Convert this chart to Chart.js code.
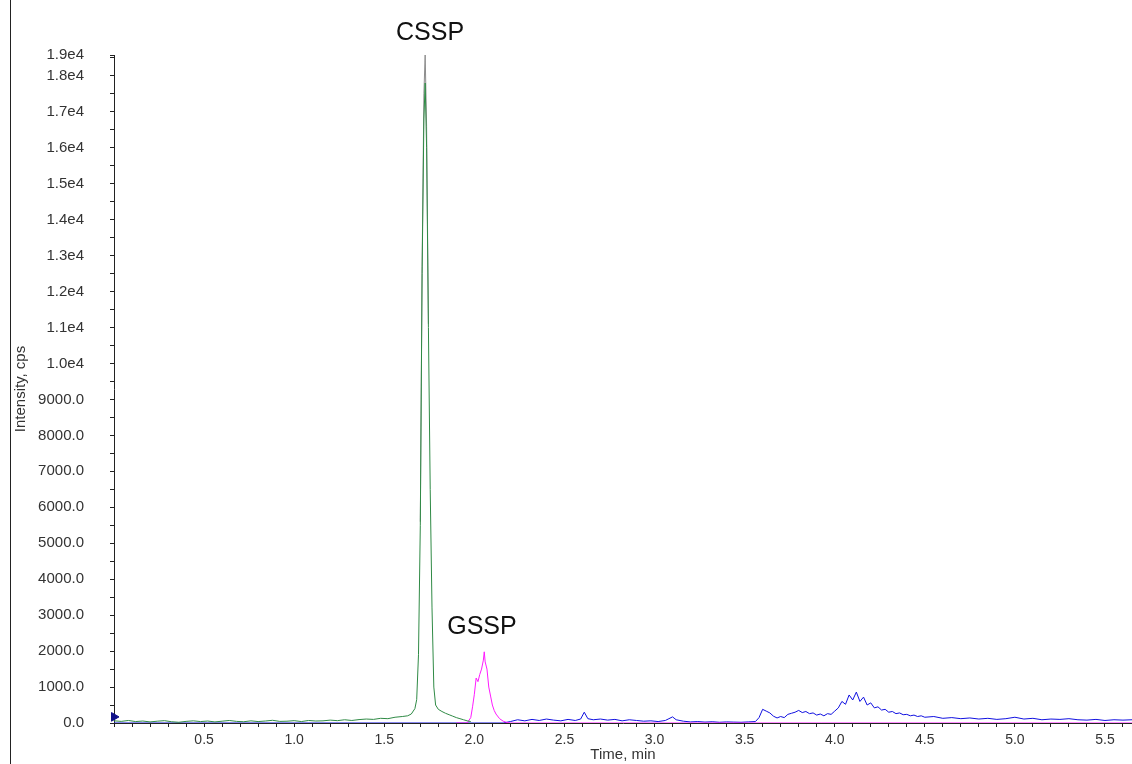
<!DOCTYPE html>
<html>
<head>
<meta charset="utf-8">
<script src="https://cdn.jsdelivr.net/npm/chart.js@4.4.0/dist/chart.umd.min.js"></script>
<style>
  html, body { margin: 0; padding: 0; background: #fff; }
  #chart { display: block; }
</style>
</head>
<body>
<canvas id="chart" width="1132" height="764"></canvas>
<script>
// time (min) / intensity (cps)
const greenTime = [
  0.00, 0.04, 0.08, 0.12, 0.16, 0.20, 0.24, 0.28, 0.32, 0.36,
  0.40, 0.44, 0.48, 0.52, 0.56, 0.60, 0.64, 0.68, 0.72, 0.76,
  0.80, 0.84, 0.88, 0.92, 0.96, 1.00, 1.04, 1.08, 1.12, 1.16,
  1.20, 1.24, 1.28, 1.32, 1.36, 1.40, 1.44, 1.48, 1.52, 1.56,
  1.60, 1.63, 1.65, 1.67, 1.68, 1.69, 1.70, 1.71, 1.72, 1.727,
  1.735, 1.745, 1.755, 1.765, 1.775, 1.785, 1.80, 1.82, 1.84, 1.86,
  1.88, 1.90, 1.92, 1.94, 1.96, 1.98
]
const greenIntensity = [
  60, 45, 70, 40, 55, 30, 50, 65, 35, 20,
  45, 60, 40, 55, 30, 50, 70, 45, 35, 60,
  40, 55, 75, 45, 50, 65, 40, 70, 55, 60,
  80, 65, 90, 70, 95, 110, 100, 130, 120, 160,
  180, 200, 250, 400, 650, 1900, 5500, 12500, 16800, 17800,
  16000, 11000, 6500, 3200, 1000, 500, 380, 320, 270, 230,
  190, 150, 120, 90, 60, 40
]

const grayTime = [1.70, 1.71, 1.72, 1.727, 1.735, 1.745]
const grayIntensity = [5600, 12700, 17500, 18600, 16600, 11100]

const magentaTime = [
  1.90, 1.96, 1.98, 1.99, 2.00, 2.01, 2.02, 2.03, 2.04, 2.05,
  2.055, 2.06, 2.07, 2.08, 2.09, 2.10, 2.11, 2.12, 2.14, 2.16,
  2.18, 2.20, 5.65
]
const magentaIntensity = [
  0, 0, 150, 450, 800, 1250, 1150, 1350, 1500, 1750,
  1980, 1700, 1500, 1000, 750, 500, 350, 250, 120, 50,
  15, 0, 0
]

const blueTime = [
  0.00, 1.00, 2.00, 2.16, 2.20, 2.24, 2.28, 2.32, 2.36, 2.40,
  2.44, 2.48, 2.52, 2.56, 2.59, 2.61, 2.63, 2.66, 2.70, 2.74,
  2.78, 2.82, 2.86, 2.90, 2.94, 2.98, 3.02, 3.06, 3.08, 3.10,
  3.12, 3.16, 3.20, 3.24, 3.28, 3.32, 3.36, 3.40, 3.44, 3.48,
  3.52, 3.56, 3.58, 3.60, 3.62, 3.64, 3.66, 3.68, 3.70, 3.72,
  3.74, 3.76, 3.78, 3.80, 3.82, 3.84, 3.86, 3.88, 3.90, 3.92,
  3.94, 3.96, 3.98, 4.00, 4.02, 4.04, 4.06, 4.08, 4.10, 4.12,
  4.14, 4.16, 4.18, 4.20, 4.22, 4.24, 4.26, 4.28, 4.30, 4.32,
  4.34, 4.36, 4.38, 4.40, 4.42, 4.44, 4.46, 4.48, 4.50, 4.55,
  4.60, 4.65, 4.70, 4.75, 4.80, 4.85, 4.90, 4.95, 5.00, 5.05,
  5.10, 5.15, 5.20, 5.25, 5.30, 5.35, 5.40, 5.45, 5.50, 5.55,
  5.60, 5.65
]
const blueIntensity = [
  0, 0, 0, 0, 40, 90, 60, 100, 70, 110,
  80, 60, 100, 70, 110, 300, 120, 90, 110, 80,
  100, 60, 90, 70, 50, 60, 40, 70, 120, 170,
  90, 50, 30, 40, 25, 35, 20, 30, 25, 20,
  30, 40, 150, 380, 330, 280, 190, 140, 180, 150,
  240, 270, 300, 350, 290, 320, 260, 280, 220, 250,
  200, 260, 240, 330, 420, 600, 520, 780, 640, 860,
  600, 720, 500, 560, 420, 450, 360, 380, 300, 320,
  260, 280, 230, 240, 200, 220, 180, 200, 160, 180,
  130, 150, 120, 140, 110, 130, 100, 120, 160, 110,
  130, 90, 110, 100, 120, 90, 80, 100, 70, 90,
  80, 90
]

// start marker on the left of the trace
const markerTime = [0.0]
const markerIntensity = [170]

const peakLabels = ["CSSP", "GSSP"]
const peakLabelTime = [1.754, 2.042]
const peakLabelIntensity = [19180, 2656]

const xMax = 5.65
const yMax = 18580
const xTickValues = []
for (let i = 0; i <= 56; i++) xTickValues.push(i / 10)
xTickValues.push(xMax)
const yTickValues = []
for (let v = 0; v <= 18500; v += 500) yTickValues.push(v)
yTickValues.push(yMax)

const toPoints = (xs, ys) => xs.map((x, i) => ({ x: x, y: ys[i] }))

const labelFont = "Liberation Sans, Arial, sans-serif"

const decorPlugin = {
  id: 'decor',
  beforeDraw(chart) {
    const ctx = chart.ctx
    ctx.save()
    ctx.strokeStyle = '#222'
    ctx.lineWidth = 1
    ctx.beginPath()
    ctx.moveTo(10.5, 0)
    ctx.lineTo(10.5, chart.height)
    ctx.stroke()
    ctx.restore()
  },
  afterDraw(chart) {
    const ctx = chart.ctx
    const xs = chart.scales.x, ys = chart.scales.y
    ctx.save()
    ctx.fillStyle = '#111'
    ctx.font = '25px ' + labelFont
    ctx.textAlign = 'center'
    ctx.textBaseline = 'middle'
    peakLabels.forEach((txt, i) => {
      ctx.fillText(txt, xs.getPixelForValue(peakLabelTime[i]), ys.getPixelForValue(peakLabelIntensity[i]))
    })
    ctx.restore()
  }
}

const lineStyle = { borderWidth: 1, pointRadius: 0, tension: 0, fill: false }

new Chart(document.getElementById('chart'), {
  type: 'line',
  data: {
    datasets: [
      { label: 'marker', data: toPoints(markerTime, markerIntensity), showLine: false, pointStyle: 'triangle', rotation: 90, pointRadius: 5, backgroundColor: '#10108a', borderColor: '#10108a', clip: false, order: 0 },
      { label: 'CSSP', data: toPoints(greenTime, greenIntensity), borderColor: '#2f8a45', ...lineStyle, order: 1 },
      { label: 'CSSP total', data: toPoints(grayTime, grayIntensity), borderColor: '#8c8c8c', ...lineStyle, order: 2 },
      { label: 'GSSP', data: toPoints(magentaTime, magentaIntensity), borderColor: '#ff1aff', ...lineStyle, order: 3 },
      { label: 'other', data: toPoints(blueTime, blueIntensity), borderColor: '#1010e0', ...lineStyle, order: 4 }
    ]
  },
  options: {
    responsive: false,
    animation: false,
    layout: { autoPadding: false, padding: { top: 55, left: 0, right: 0, bottom: 0 } },
    plugins: { legend: { display: false }, tooltip: { enabled: false } },
    scales: {
      x: {
        type: 'linear', min: 0, max: xMax,
        afterBuildTicks: (s) => { s.ticks = xTickValues.map(v => ({ value: v })) },
        afterFit: (s) => { s.height = 41; s.paddingRight = 0; s.paddingLeft = 0 },
        grid: { drawOnChartArea: false, drawTicks: true, tickLength: 4, color: '#222' },
        border: { display: true, color: '#222' },
        ticks: {
          autoSkip: false, maxRotation: 0, padding: 5, color: '#333',
          font: { family: labelFont, size: 14 },
          callback: (v) => {
            const r = Math.round(v * 10)
            if (Math.abs(v * 10 - r) > 1e-6 || r === 0 || r % 5 !== 0) return ''
            return (r / 10).toFixed(1)
          }
        },
        title: { display: true, text: 'Time, min', color: '#333', font: { family: labelFont, size: 15 }, padding: { top: 0, bottom: 0 } }
      },
      y: {
        type: 'linear', min: 0, max: yMax,
        afterBuildTicks: (s) => { s.ticks = yTickValues.map(v => ({ value: v })) },
        afterFit: (s) => { s.width = 114 },
        grid: { drawOnChartArea: false, drawTicks: true, tickLength: 4, color: '#222' },
        border: { display: true, color: '#222' },
        ticks: {
          autoSkip: false, padding: 26, color: '#333',
          font: { family: labelFont, size: 15 },
          callback: (v) => {
            if (v === yMax) return '1.9e4'
            if (v % 1000 !== 0) return ''
            if (v >= 10000) return (v / 10000).toFixed(1) + 'e4'
            return v.toFixed(1)
          }
        },
        title: { display: true, text: 'Intensity, cps', color: '#333', font: { family: labelFont, size: 15 }, padding: { top: 12, bottom: 0 } }
      }
    }
  },
  plugins: [decorPlugin]
})
</script>
</body>
</html>
